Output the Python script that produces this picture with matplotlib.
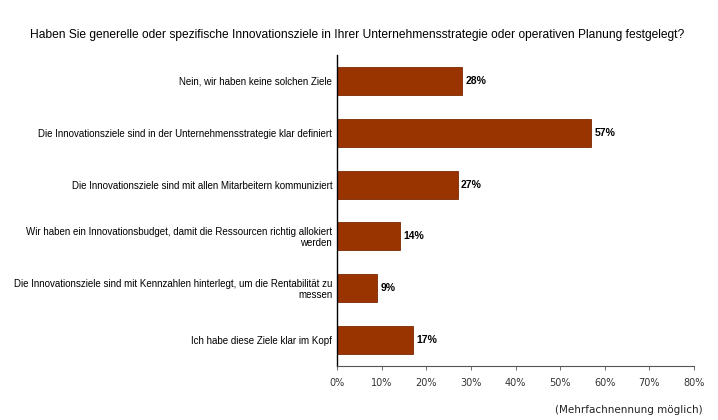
import matplotlib.pyplot as plt

plt.rcParams['font.family'] = ['Liberation Sans', 'DejaVu Sans']

categories = [
    'Nein, wir haben keine solchen Ziele',
    'Die Innovationsziele sind in der Unternehmensstrategie klar definiert',
    'Die Innovationsziele sind mit allen Mitarbeitern kommuniziert',
    'Wir haben ein Innovationsbudget, damit die Ressourcen richtig allokiert\nwerden',
    'Die Innovationsziele sind mit Kennzahlen hinterlegt, um die Rentabilität zu\nmessen',
    'Ich habe diese Ziele klar im Kopf',
]
values = [28, 57, 27, 14, 9, 17]
xticks = [0, 10, 20, 30, 40, 50, 60, 70, 80]

fig = plt.figure(figsize=(7.18, 4.2), dpi=100)
ax = fig.add_axes([0.4694, 0.129, 0.4972, 0.74])

y = list(range(len(values)))
ax.barh(y, values, height=0.54, color='#993300', edgecolor='#7a2800', linewidth=0.6)
ax.set_ylim(5.5, -0.5)
ax.set_xlim(0, 80)

for yi, v in zip(y, values):
    ax.text(v + 0.8, yi, f'{v}%', va='center', ha='left', fontsize=7.5, fontweight='bold')

ax.set_yticks(y)
ax.set_yticklabels(categories, fontsize=7.0, ha='right', linespacing=1.1)
ax.tick_params(axis='y', length=0, pad=3.5)
ax.set_xticks(xticks)
ax.set_xticklabels([f'{t}%' for t in xticks], fontsize=7, color='#333333',
                   family=['DejaVu Sans'])
ax.tick_params(axis='x', length=3, width=0.6, color='#555555', pad=6)

ax.spines['top'].set_visible(False)
ax.spines['right'].set_visible(False)
ax.spines['left'].set_linewidth(1.0)
ax.spines['bottom'].set_color('#555555')
ax.spines['bottom'].set_linewidth(0.8)

fig.text(0.497, 0.917, 'Haben Sie generelle oder spezifische Innovationsziele in Ihrer '
         'Unternehmensstrategie oder operativen Planung festgelegt?',
         ha='center', va='center', fontsize=8.65)
fig.text(0.979, 0.024, '(Mehrfachnennung möglich)', ha='right', va='center',
         fontsize=7.5, family=['DejaVu Sans'], color='#222222')

fig.savefig('out.png', dpi=100, facecolor='white')
